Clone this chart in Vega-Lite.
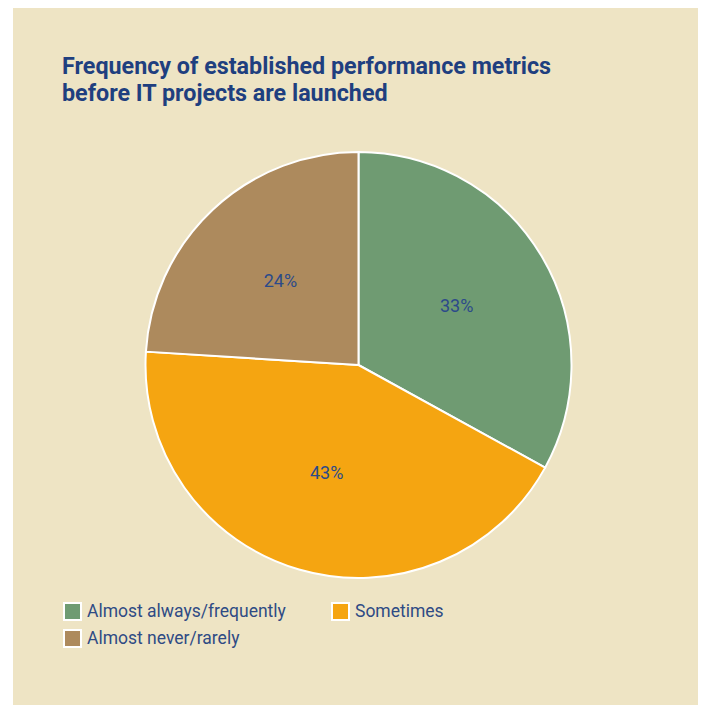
{
  "$schema": "https://vega.github.io/schema/vega-lite/v6.json",
  "width": 702,
  "height": 708,
  "autosize": {"type": "fit", "contains": "padding"},
  "padding": {"left": 13, "top": 8, "right": 4, "bottom": 3},
  "background": "#ffffff",
  "view": {"fill": "#EEE4C4", "stroke": null},
  "config": {"view": {"fill": "#EEE4C4", "stroke": null}},
  "title": {
    "text": ["Frequency of established performance metrics", "before IT projects are launched"],
    "anchor": "start",
    "orient": "top",
    "frame": "group",
    "baseline": "top",
    "offset": -98,
    "dx": 49,
    "font": "Roboto",
    "fontSize": 23.3,
    "fontWeight": "bold",
    "color": "#1F3F7F",
    "lineHeight": 27
  },
  "data": {
    "values": [
      {"category": "Almost always/frequently", "percent": 33, "label": "33%", "rank": 1},
      {"category": "Sometimes", "percent": 43, "label": "43%", "rank": 2},
      {"category": "Almost never/rarely", "percent": 24, "label": "24%", "rank": 3}
    ]
  },
  "encoding": {
    "theta": {"field": "percent", "type": "quantitative", "stack": true},
    "order": {"field": "rank", "type": "quantitative"}
  },
  "layer": [
    {
      "mark": {
        "type": "arc",
        "outerRadius": 213,
        "stroke": "#ffffff",
        "strokeWidth": 2,
        "x": {"expr": "width/2+3"},
        "y": {"expr": "height/2+8.5"}
      },
      "encoding": {
        "color": {
          "field": "category",
          "type": "nominal",
          "scale": {
            "domain": ["Almost always/frequently", "Almost never/rarely", "Sometimes"],
            "range": ["#6F9B72", "#AD8A5D", "#F5A511"]
          },
          "legend": {
            "title": null,
            "orient": "none",
            "legendX": 50,
            "legendY": 594,
            "columns": 2,
            "columnPadding": 42,
            "rowPadding": 2,
            "padding": 0,
            "symbolType": "square",
            "symbolSize": 289,
            "symbolStrokeColor": "#ffffff",
            "symbolStrokeWidth": 2,
            "symbolOpacity": 1,
            "labelFont": "Roboto",
            "labelFontSize": 17.5,
            "labelColor": "#2F4B84",
            "labelOffset": 5,
            "labelLimit": 300
          }
        }
      }
    },
    {
      "mark": {
        "type": "text",
        "radius": 114,
        "font": "Roboto",
        "fontSize": 18,
        "color": "#2C4A8A",
        "x": {"expr": "width/2+3"},
        "y": {"expr": "height/2+8.5"}
      },
      "encoding": {
        "text": {"field": "label", "type": "nominal"}
      }
    }
  ]
}
